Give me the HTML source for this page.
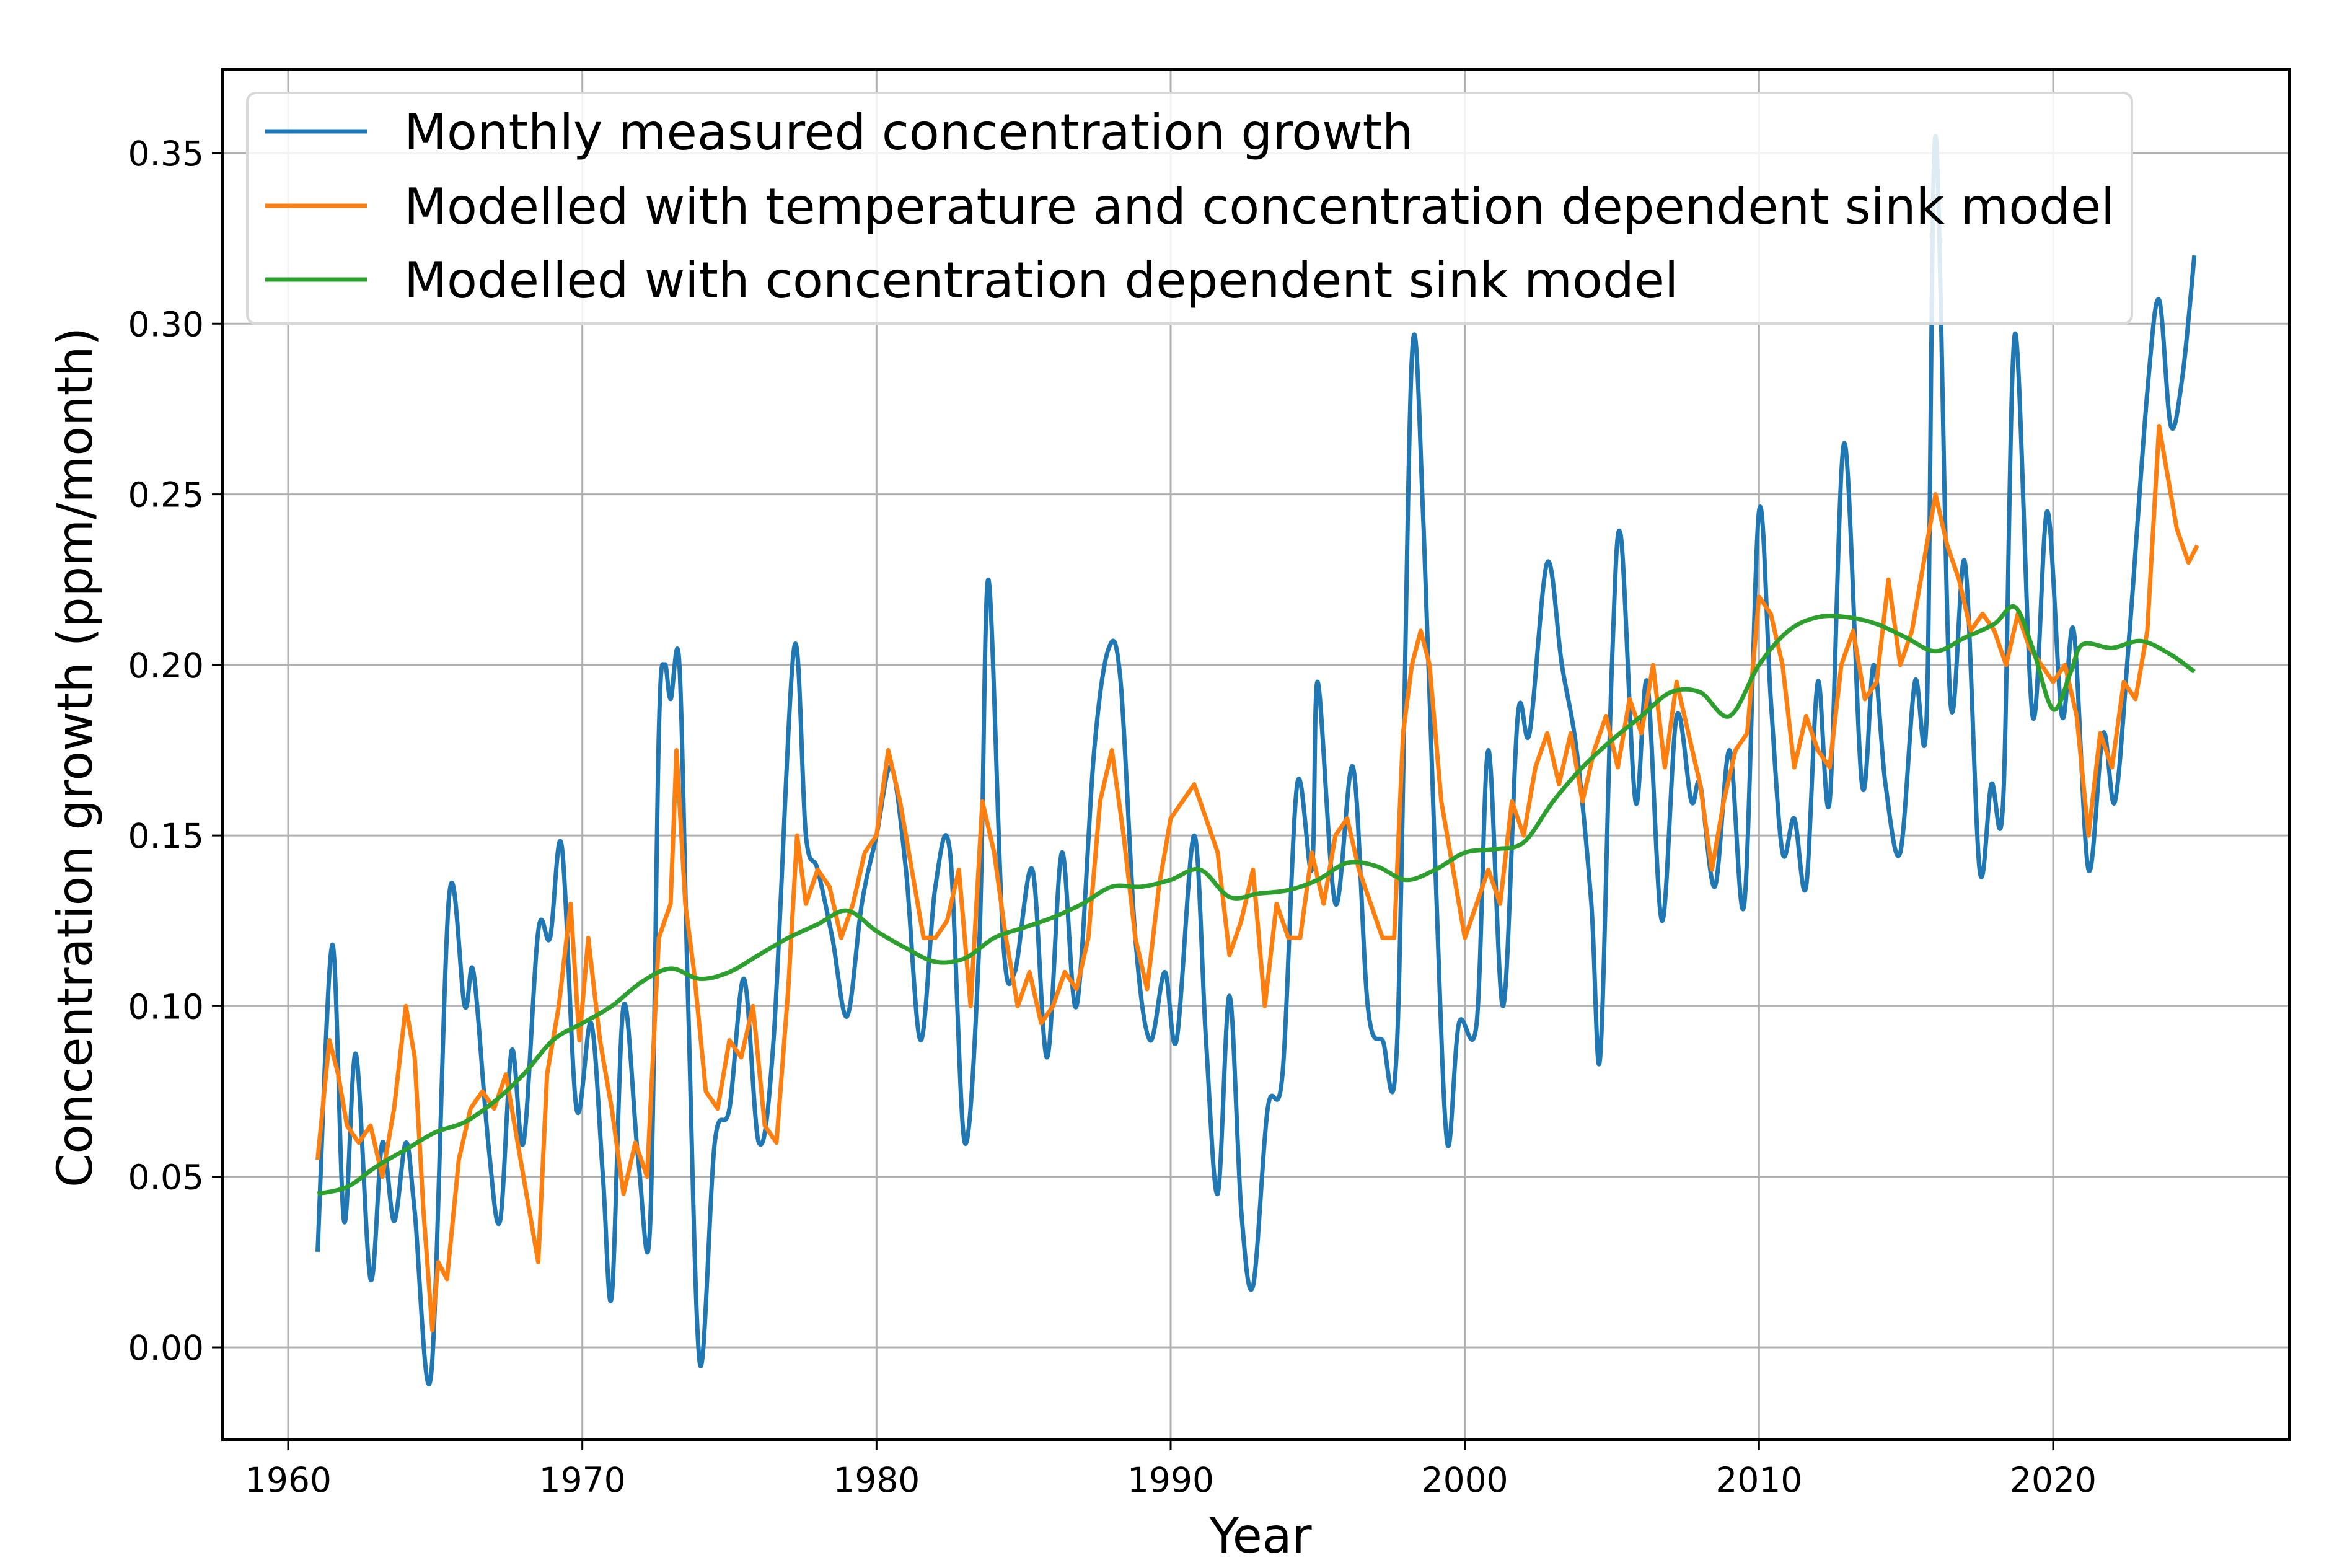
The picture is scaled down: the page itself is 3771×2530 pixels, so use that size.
<!DOCTYPE html>
<html><head><meta charset="utf-8"><style>
html,body{margin:0;padding:0;background:#fff;}
svg{display:block;}
text{font-family:"DejaVu Sans","Liberation Sans",sans-serif;fill:#000;}
</style></head><body>
<svg id="chart" width="3771" height="2530" viewBox="0 0 3771 2530" xmlns="http://www.w3.org/2000/svg">
<rect x="0" y="0" width="3771" height="2530" fill="#fff"/>
<g id="grid"></g>
<g id="series"></g>
<rect x="359" y="112" width="3335" height="2211" fill="none" stroke="#000" stroke-width="4"/>
<g id="ticks"></g>
<text x="2034" y="2505" font-size="78" text-anchor="middle">Year</text>
<text x="0" y="0" font-size="78" text-anchor="middle" transform="translate(148,1222) rotate(-90)">Concentration growth (ppm/month)</text>
<g>
<rect x="399" y="150" width="3041" height="372" rx="14" fill="#fff" fill-opacity="0.85" stroke="#d8d8d8" stroke-width="4"/>
<line x1="428" y1="212" x2="592" y2="212" stroke="#1f77b4" stroke-width="7"/>
<text x="652" y="241" font-size="80">Monthly measured concentration growth</text>
<line x1="428" y1="332" x2="592" y2="332" stroke="#ff7f0e" stroke-width="7"/>
<text x="652" y="361" font-size="80">Modelled with temperature and concentration dependent sink model</text>
<line x1="428" y1="451" x2="592" y2="451" stroke="#2ca02c" stroke-width="7"/>
<text x="652" y="480" font-size="80">Modelled with concentration dependent sink model</text>
</g>
</svg>
<script>
const xTicks = [1960,1970,1980,1990,2000,2010,2020];
const yTicks = [0,0.05,0.10,0.15,0.20,0.25,0.30,0.35];
const yTickLabels = ["0.00","0.05","0.10","0.15","0.20","0.25","0.30","0.35"];
const blueYears = [1961.0,1961.5,1961.9,1962.3,1962.8,1963.2,1963.6,1964.0,1964.3,1964.86,1965.47,1966.0,1966.3,1966.8,1967.2,1967.6,1968.0,1968.5,1968.9,1969.3,1969.8,1970.3,1970.7,1971.0,1971.4,1971.9,1972.3,1972.6,1972.8,1973.0,1973.3,1973.6,1974.0,1974.5,1975.0,1975.5,1976.0,1976.5,1977.2,1977.6,1978.0,1978.5,1979.0,1979.5,1980.0,1980.5,1981.0,1981.5,1982.0,1982.5,1983.0,1983.5,1983.8,1984.3,1984.7,1985.3,1985.8,1986.3,1986.8,1987.4,1987.9,1988.3,1988.8,1989.3,1989.8,1990.2,1990.8,1991.2,1991.6,1992.0,1992.4,1992.8,1993.3,1993.8,1994.3,1994.8,1995.0,1995.6,1996.2,1996.7,1997.2,1997.7,1998.2,1998.6,1999.0,1999.4,1999.8,2000.4,2000.8,2001.3,2001.8,2002.2,2002.8,2003.3,2003.8,2004.3,2004.6,2005.0,2005.3,2005.8,2006.2,2006.7,2007.2,2007.7,2008.0,2008.5,2009.0,2009.5,2010.0,2010.4,2010.8,2011.2,2011.6,2012.0,2012.4,2012.9,2013.5,2013.9,2014.3,2014.8,2015.3,2015.7,2016.0,2016.5,2017.0,2017.5,2017.9,2018.3,2018.7,2019.3,2019.8,2020.3,2020.7,2021.2,2021.7,2022.1,2022.6,2023.2,2023.6,2024.0,2024.4,2024.8];
const blueValues = [0.028,0.118,0.037,0.086,0.02,0.06,0.037,0.06,0.04,-0.008,0.132,0.10,0.11,0.06,0.037,0.087,0.06,0.122,0.12,0.147,0.07,0.095,0.05,0.015,0.10,0.055,0.035,0.18,0.2,0.19,0.2,0.1,-0.005,0.06,0.07,0.108,0.06,0.09,0.205,0.15,0.14,0.12,0.097,0.13,0.15,0.17,0.14,0.09,0.135,0.145,0.06,0.12,0.225,0.12,0.11,0.14,0.085,0.145,0.10,0.175,0.205,0.195,0.12,0.09,0.11,0.09,0.15,0.09,0.045,0.103,0.04,0.018,0.07,0.08,0.165,0.14,0.195,0.13,0.17,0.1,0.09,0.09,0.29,0.24,0.14,0.06,0.095,0.095,0.175,0.1,0.185,0.18,0.23,0.2,0.175,0.13,0.085,0.2,0.238,0.16,0.195,0.125,0.185,0.16,0.165,0.135,0.175,0.13,0.245,0.19,0.145,0.155,0.135,0.195,0.16,0.265,0.165,0.2,0.165,0.145,0.195,0.185,0.355,0.19,0.23,0.14,0.165,0.16,0.297,0.185,0.245,0.185,0.21,0.14,0.18,0.16,0.21,0.28,0.307,0.27,0.285,0.32];
const orangeYears = [1961.0,1961.4,1961.7,1962.0,1962.4,1962.8,1963.2,1963.6,1964.0,1964.3,1964.6,1964.9,1965.1,1965.4,1965.8,1966.2,1966.6,1967.0,1967.4,1967.8,1968.2,1968.5,1968.8,1969.2,1969.6,1969.9,1970.2,1970.6,1971.0,1971.4,1971.8,1972.2,1972.6,1973.0,1973.2,1973.5,1973.8,1974.2,1974.6,1975.0,1975.4,1975.8,1976.2,1976.6,1977.0,1977.3,1977.6,1978.0,1978.4,1978.8,1979.2,1979.6,1980.0,1980.4,1980.8,1981.2,1981.6,1982.0,1982.4,1982.8,1983.2,1983.6,1984.0,1984.4,1984.8,1985.2,1985.6,1986.0,1986.4,1986.8,1987.2,1987.6,1988.0,1988.4,1988.8,1989.2,1989.6,1990.0,1990.4,1990.8,1991.2,1991.6,1992.0,1992.4,1992.8,1993.2,1993.6,1994.0,1994.4,1994.8,1995.2,1995.6,1996.0,1996.4,1996.8,1997.2,1997.6,1997.9,1998.2,1998.5,1998.8,1999.2,1999.6,2000.0,2000.4,2000.8,2001.2,2001.6,2002.0,2002.4,2002.8,2003.2,2003.6,2004.0,2004.4,2004.8,2005.2,2005.6,2006.0,2006.4,2006.8,2007.2,2007.6,2008.0,2008.4,2008.8,2009.2,2009.6,2010.0,2010.4,2010.8,2011.2,2011.6,2012.0,2012.4,2012.8,2013.2,2013.6,2014.0,2014.4,2014.8,2015.2,2015.6,2016.0,2016.4,2016.8,2017.2,2017.6,2018.0,2018.4,2018.8,2019.2,2019.6,2020.0,2020.4,2020.8,2021.2,2021.6,2022.0,2022.4,2022.8,2023.2,2023.6,2023.9,2024.2,2024.6,2024.9];
const orangeValues = [0.055,0.09,0.08,0.065,0.06,0.065,0.05,0.07,0.1,0.085,0.04,0.005,0.025,0.02,0.055,0.07,0.075,0.07,0.08,0.06,0.04,0.025,0.08,0.1,0.13,0.09,0.12,0.09,0.07,0.045,0.06,0.05,0.12,0.13,0.175,0.13,0.11,0.075,0.07,0.09,0.085,0.1,0.065,0.06,0.105,0.15,0.13,0.14,0.135,0.12,0.13,0.145,0.15,0.175,0.16,0.14,0.12,0.12,0.125,0.14,0.1,0.16,0.145,0.12,0.1,0.11,0.095,0.1,0.11,0.105,0.12,0.16,0.175,0.15,0.12,0.105,0.135,0.155,0.16,0.165,0.155,0.145,0.115,0.125,0.14,0.1,0.13,0.12,0.12,0.145,0.13,0.15,0.155,0.14,0.13,0.12,0.12,0.18,0.2,0.21,0.2,0.16,0.14,0.12,0.13,0.14,0.13,0.16,0.15,0.17,0.18,0.165,0.18,0.16,0.175,0.185,0.17,0.19,0.18,0.2,0.17,0.195,0.18,0.165,0.14,0.16,0.175,0.18,0.22,0.215,0.2,0.17,0.185,0.175,0.17,0.2,0.21,0.19,0.195,0.225,0.2,0.21,0.23,0.25,0.235,0.225,0.21,0.215,0.21,0.2,0.215,0.205,0.2,0.195,0.2,0.185,0.15,0.18,0.17,0.195,0.19,0.21,0.27,0.255,0.24,0.23,0.235];
const greenYears = [1961,1962,1963,1964,1965,1966,1967,1968,1969,1970,1971,1972,1973,1974,1975,1976,1977,1978,1979,1980,1981,1982,1983,1984,1985,1986,1987,1988,1989,1990,1991,1992,1993,1994,1995,1996,1997,1998,1999,2000,2001,2002,2003,2004,2005,2006,2007,2008,2009,2010,2011,2012,2013,2014,2015,2016,2017,2018,2018.7,2019.3,2020,2020.6,2021,2022,2023,2024,2024.8];
const greenValues = [0.045,0.047,0.053,0.058,0.063,0.066,0.072,0.08,0.09,0.095,0.1,0.107,0.111,0.108,0.11,0.115,0.12,0.124,0.128,0.122,0.117,0.113,0.114,0.12,0.123,0.126,0.13,0.135,0.135,0.137,0.14,0.132,0.133,0.134,0.137,0.142,0.141,0.137,0.14,0.145,0.146,0.148,0.16,0.17,0.178,0.185,0.192,0.192,0.185,0.2,0.21,0.214,0.214,0.212,0.208,0.204,0.208,0.212,0.217,0.205,0.187,0.198,0.206,0.205,0.207,0.203,0.198];

const NS = "http://www.w3.org/2000/svg";
const PL = 359, PR = 3694, PT = 112, PB = 2323;
function xScale(yr){ return 465 + (yr - 1960) * (3313 - 465) / 60; }
function yScale(v){ return 2174 - v * (2174 - 247) / 0.35; }

const grid = document.getElementById('grid');
const ticks = document.getElementById('ticks');
xTicks.forEach(function(t){
  const x = xScale(t);
  const g = document.createElementNS(NS,'line');
  g.setAttribute('x1',x); g.setAttribute('x2',x); g.setAttribute('y1',PT); g.setAttribute('y2',PB);
  g.setAttribute('stroke','#b0b0b0'); g.setAttribute('stroke-width','3');
  
  
  grid.appendChild(g);
  const tk = document.createElementNS(NS,'line');
  tk.setAttribute('x1',x); tk.setAttribute('x2',x); tk.setAttribute('y1',PB); tk.setAttribute('y2',PB+17);
  tk.setAttribute('stroke','#000'); tk.setAttribute('stroke-width','3');
  
  
  ticks.appendChild(tk);
  const tx = document.createElementNS(NS,'text');
  tx.setAttribute('x',x); tx.setAttribute('y',2407); tx.setAttribute('font-size','55'); tx.setAttribute('text-anchor','middle');
  tx.textContent = String(t);
  
  
  ticks.appendChild(tx);
});
yTicks.forEach(function(t,i){
  const y = yScale(t);
  const g = document.createElementNS(NS,'line');
  g.setAttribute('x1',PL); g.setAttribute('x2',PR); g.setAttribute('y1',y); g.setAttribute('y2',y);
  g.setAttribute('stroke','#b0b0b0'); g.setAttribute('stroke-width','3');
  
  
  grid.appendChild(g);
  const tk = document.createElementNS(NS,'line');
  tk.setAttribute('x1',PL-17); tk.setAttribute('x2',PL); tk.setAttribute('y1',y); tk.setAttribute('y2',y);
  tk.setAttribute('stroke','#000'); tk.setAttribute('stroke-width','3');
  
  
  ticks.appendChild(tk);
  const tx = document.createElementNS(NS,'text');
  tx.setAttribute('x',PL-30); tx.setAttribute('y',y+20); tx.setAttribute('font-size','55'); tx.setAttribute('text-anchor','end');
  tx.textContent = yTickLabels[i];
  
  
  ticks.appendChild(tx);
});

function linePath(xs, vs){
  let d = '';
  for (let i=0;i<xs.length;i++){ d += (i?'L':'M') + xScale(xs[i]).toFixed(1) + ' ' + yScale(vs[i]).toFixed(1); }
  return d;
}
function smoothPath(xs, vs){
  const p = xs.map(function(x,i){ return [xScale(x), yScale(vs[i])]; });
  let d = 'M' + p[0][0].toFixed(1) + ' ' + p[0][1].toFixed(1);
  for (let i=0;i<p.length-1;i++){
    const p0 = p[i>0?i-1:i], p1 = p[i], p2 = p[i+1], p3 = p[i+2<p.length?i+2:i+1];
    const c1x = p1[0] + (p2[0]-p0[0])/6, c1y = p1[1] + (p2[1]-p0[1])/6;
    const c2x = p2[0] - (p3[0]-p1[0])/6, c2y = p2[1] - (p3[1]-p1[1])/6;
    d += 'C' + c1x.toFixed(1)+' '+c1y.toFixed(1)+' '+c2x.toFixed(1)+' '+c2y.toFixed(1)+' '+p2[0].toFixed(1)+' '+p2[1].toFixed(1);
  }
  return d;
}
const series = document.getElementById('series');
const defs = document.createElementNS(NS,'clipPath');
defs.setAttribute('id','clip');
const cr = document.createElementNS(NS,'rect');
cr.setAttribute('x',PL); cr.setAttribute('y',PT); cr.setAttribute('width',PR-PL); cr.setAttribute('height',PB-PT);
defs.appendChild(cr);
series.appendChild(defs);
series.setAttribute('clip-path','url(#clip)');

const blue = document.createElementNS(NS,'path');
blue.setAttribute('d', smoothPath(blueYears, blueValues));
blue.setAttribute('fill','none'); blue.setAttribute('stroke','#1f77b4'); blue.setAttribute('stroke-width','7'); blue.setAttribute('stroke-linejoin','round');


series.appendChild(blue);

const orange = document.createElementNS(NS,'path');
orange.setAttribute('d', linePath(orangeYears, orangeValues));
orange.setAttribute('fill','none'); orange.setAttribute('stroke','#ff7f0e'); orange.setAttribute('stroke-width','7'); orange.setAttribute('stroke-linejoin','round');


series.appendChild(orange);

const green = document.createElementNS(NS,'path');
green.setAttribute('d', smoothPath(greenYears, greenValues));
green.setAttribute('fill','none'); green.setAttribute('stroke','#2ca02c'); green.setAttribute('stroke-width','7'); green.setAttribute('stroke-linejoin','round');


series.appendChild(green);
</script>
</body></html>
